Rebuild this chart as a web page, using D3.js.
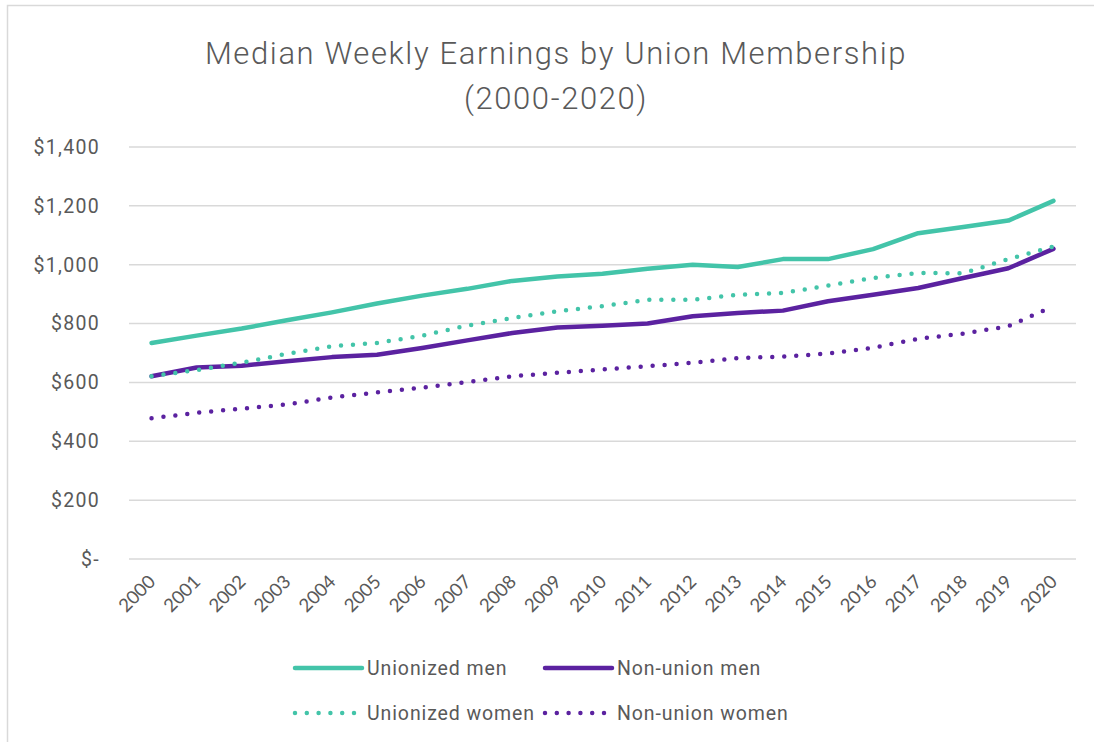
<!DOCTYPE html>
<html>
<head>
<meta charset="utf-8">
<script src="https://cdn.jsdelivr.net/npm/d3@7"></script>
<style>
  body { margin: 0; background: #fff; }
  svg text { fill: #595959; }
</style>
</head>
<body>
<div id="chart"></div>
<script>
const years = ['2000','2001','2002','2003','2004','2005','2006','2007','2008','2009','2010',
  '2011','2012','2013','2014','2015','2016','2017','2018','2019','2020'];
const unionMen = [734, 759, 783, 811, 838, 868, 895, 918, 945, 960, 969, 986, 1000, 992, 1019, 1019, 1053, 1107, 1128, 1150, 1217];
const nonUnionMen = [621, 651, 657, 672, 686, 694, 717, 743, 768, 787, 793, 800, 825, 836, 844, 876, 898, 921, 955, 988, 1054];
const unionWomen = [621, 642, 667, 697, 723, 734, 759, 793, 819, 842, 859, 881, 881, 898, 904, 929, 955, 972, 971, 1019, 1062];
const nonUnionWomen = [478, 497, 511, 525, 549, 566, 582, 601, 621, 633, 644, 655, 667, 683, 688, 698, 718, 748, 766, 791, 859];
const yTicks = [0, 200, 400, 600, 800, 1000, 1200, 1400];
const seriesNames = ['Unionized men', 'Non-union men', 'Unionized women', 'Non-union women'];

const teal = '#43c4a9';
const purple = '#5b22a0';

const series = [
  { name: seriesNames[0], values: unionMen, color: teal, dotted: false },
  { name: seriesNames[1], values: nonUnionMen, color: purple, dotted: false },
  { name: seriesNames[2], values: unionWomen, color: teal, dotted: true },
  { name: seriesNames[3], values: nonUnionWomen, color: purple, dotted: true }
];

const width = 1094, height = 742;
const margin = { top: 147, right: 18, bottom: 183, left: 129 };

const svg = d3.select('#chart').append('svg')
  .attr('width', width)
  .attr('height', height);

// chart border
svg.append('rect')
  .attr('x', 7.5).attr('y', 5.5)
  .attr('width', width + 10).attr('height', height + 10)
  .attr('fill', 'none')
  .attr('stroke', '#d9d9d9')
  .attr('stroke-width', 1.5);

// title
const title = svg.append('text')
  .attr('text-anchor', 'middle')
  .attr('font-family', 'Roboto, sans-serif')
  .attr('font-size', 31)
  .attr('font-weight', 300)
  .attr('letter-spacing', 1.6);
title.append('tspan').attr('x', 556).attr('y', 64).text('Median Weekly Earnings by Union Membership');
title.append('tspan').attr('x', 556).attr('y', 109).text('(2000-2020)');

const x = d3.scalePoint()
  .domain(years)
  .range([margin.left, width - margin.right])
  .padding(0.5);

const y = d3.scaleLinear()
  .domain([0, 1400])
  .range([height - margin.bottom, margin.top]);

// gridlines
svg.append('g')
  .selectAll('line')
  .data(yTicks)
  .join('line')
  .attr('x1', margin.left)
  .attr('x2', width - margin.right)
  .attr('y1', d => y(d))
  .attr('y2', d => y(d))
  .attr('stroke', '#d9d9d9')
  .attr('stroke-width', 1.5);

// y labels
const fmt = d => d === 0 ? '$-' : '$' + d3.format(',')(d);
svg.append('g')
  .selectAll('text')
  .data(yTicks)
  .join('text')
  .attr('x', 100)
  .attr('y', d => y(d))
  .attr('dy', '0.35em')
  .attr('text-anchor', 'end')
  .attr('font-family', 'Roboto, sans-serif')
  .attr('font-size', 19.5)
  .attr('letter-spacing', 1.3)
  .text(fmt);

// x labels
svg.append('g')
  .selectAll('text')
  .data(years)
  .join('text')
  .attr('transform', d => `translate(${x(d) + 5},${y(0) + 24}) rotate(-45)`)
  .attr('text-anchor', 'end')
  .attr('font-family', 'Lato, sans-serif')
  .attr('font-size', 18.5)
  .text(d => d);

// lines
const line = d3.line()
  .x((d, i) => x(years[i]))
  .y(d => y(d));

svg.append('g')
  .selectAll('path')
  .data(series)
  .join('path')
  .attr('d', d => line(d.values))
  .attr('fill', 'none')
  .attr('stroke', d => d.color)
  .attr('stroke-width', 4.5)
  .attr('stroke-linecap', 'round')
  .attr('stroke-linejoin', 'round')
  .attr('stroke-dasharray', d => d.dotted ? '0,12' : null);

// legend
const legendPos = [
  { x: 295, y: 668 },
  { x: 545, y: 668 },
  { x: 295, y: 713 },
  { x: 545, y: 713 }
];

const legend = svg.append('g')
  .selectAll('g')
  .data(series)
  .join('g')
  .attr('transform', (d, i) => `translate(${legendPos[i].x},${legendPos[i].y})`);

legend.append('line')
  .attr('x1', 0)
  .attr('x2', d => d.dotted ? 62 : 67)
  .attr('y1', 0).attr('y2', 0)
  .attr('stroke', d => d.color)
  .attr('stroke-width', 4.5)
  .attr('stroke-linecap', 'round')
  .attr('stroke-dasharray', d => d.dotted ? '0,11.8' : null);

legend.append('text')
  .attr('x', 72)
  .attr('y', 0)
  .attr('dy', '0.35em')
  .attr('font-family', 'Roboto, sans-serif')
  .attr('font-size', 19.5)
  .attr('letter-spacing', 0.9)
  .text(d => d.name);
</script>
</body>
</html>
